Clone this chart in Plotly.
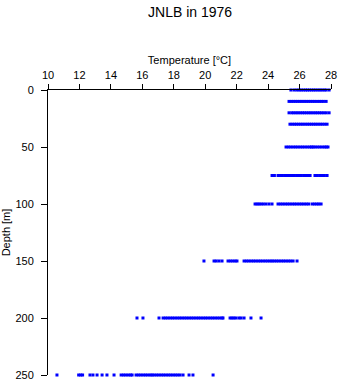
import plotly.graph_objects as go

# Depth levels [m]
depths = [0, 10, 20, 30, 50, 75, 100, 150, 200, 250]

# Temperature readings [°C] at each depth level
temp_0m = [25.45, 25.65, 25.82, 25.97, 26.1, 26.24, 26.38, 26.5, 26.63, 26.77,
           26.9, 27.03, 27.17, 27.3, 27.43, 27.57, 27.69, 27.88]
temp_10m = [25.33, 25.47, 25.6, 25.74, 25.88, 26.02, 26.15, 26.29, 26.42, 26.56,
            26.7, 26.84, 26.97, 27.11, 27.25, 27.38, 27.52, 27.69]
temp_20m = [25.33, 25.5, 25.63, 25.77, 25.9, 26.04, 26.18, 26.31, 26.45, 26.59,
            26.72, 26.86, 27.0, 27.13, 27.27, 27.41, 27.55, 27.7, 27.88]
temp_30m = [25.39, 25.53, 25.67, 25.8, 25.94, 26.08, 26.21, 26.35, 26.49, 26.62,
            26.76, 26.9, 27.03, 27.17, 27.31, 27.45, 27.6, 27.75]
temp_50m = [25.14, 25.29, 25.44, 25.59, 25.74, 25.89, 26.04, 26.19, 26.34, 26.49,
            26.64, 26.76, 26.86, 26.98, 27.13, 27.28, 27.43, 27.58, 27.7, 27.81]
temp_75m = [24.25, 24.4, 24.63, 24.76, 24.91, 25.06, 25.21, 25.36, 25.51, 25.66,
            25.81, 25.96, 26.11, 26.26, 26.41, 26.56, 26.67, 26.98, 27.13, 27.28,
            27.43, 27.58, 27.75]
temp_100m = [23.17, 23.3, 23.42, 23.55, 23.7, 23.87, 24.06, 24.25, 24.63, 24.78,
             24.93, 25.08, 25.23, 25.38, 25.53, 25.68, 25.83, 25.98, 26.13, 26.28,
             26.43, 26.58, 26.8, 26.95, 27.1, 27.22, 27.37]
temp_150m = [19.92, 20.56, 20.7, 20.88, 21.07, 21.45, 21.6, 21.75, 21.9, 22.02,
             22.47, 22.62, 22.77, 22.92, 23.07, 23.22, 23.37, 23.52, 23.67, 23.82,
             23.97, 24.12, 24.25, 24.38, 24.53, 24.68, 24.83, 24.98, 25.13, 25.28,
             25.43, 25.59, 25.84]
temp_200m = [15.66, 16.04, 17.06, 17.32, 17.47, 17.62, 17.77, 17.92, 18.07, 18.22,
             18.37, 18.52, 18.67, 18.82, 18.97, 19.12, 19.27, 19.42, 19.57, 19.72,
             19.87, 20.02, 20.17, 20.32, 20.47, 20.62, 20.77, 20.92, 21.07, 21.13,
             21.58, 21.7, 21.82, 21.95, 22.14, 22.28, 22.47, 22.91, 23.55]
temp_250m = [10.57, 11.95, 12.08, 12.2, 12.67, 12.86, 13.12, 13.44, 13.75, 14.2,
             14.65, 14.8, 14.95, 15.1, 15.25, 15.35, 15.6, 15.75, 15.9, 16.05,
             16.2, 16.35, 16.5, 16.62, 16.74, 16.9, 17.05, 17.2, 17.35, 17.5,
             17.65, 17.8, 17.95, 18.1, 18.25, 18.4, 18.59, 18.97, 19.22, 20.5]

temps_by_depth = [temp_0m, temp_10m, temp_20m, temp_30m, temp_50m, temp_75m,
                  temp_100m, temp_150m, temp_200m, temp_250m]

x_ticks = [10, 12, 14, 16, 18, 20, 22, 24, 26, 28]
y_ticks = [0, 50, 100, 150, 200, 250]

xs, ys = [], []
for d, temps in zip(depths, temps_by_depth):
    xs.extend(temps)
    ys.extend([d] * len(temps))

font_family = "Liberation Sans, Arial, sans-serif"

fig = go.Figure()
fig.add_trace(go.Scatter(
    x=xs, y=ys, mode="markers",
    marker=dict(symbol="square", size=3, color="#0000ff", line=dict(width=0)),
    cliponaxis=False, showlegend=False,
))

fig.update_layout(
    width=341, height=384,
    margin=dict(l=48, r=10, t=90, b=9, autoexpand=False),
    paper_bgcolor="white", plot_bgcolor="white",
    font=dict(family=font_family, size=11, color="black"),
    title=dict(text="JNLB in 1976", x=0.5575, xanchor="center",
               y=1 - 12 / 384, yanchor="middle",
               font=dict(size=14, color="black", family=font_family)),
    xaxis=dict(
        side="top", range=[10, 28], tickvals=x_ticks,
        ticks="outside", ticklen=5, tickwidth=1, tickcolor="black",
        showline=True, linecolor="black", linewidth=1,
        showgrid=False, zeroline=False, ticklabelstandoff=1,
        title=dict(text="Temperature [°C]", standoff=1,
                   font=dict(size=11, family=font_family)),
        automargin=False,
    ),
    yaxis=dict(
        range=[250, 0], tickvals=y_ticks,
        ticks="outside", ticklen=6, tickwidth=1, tickcolor="black",
        showline=True, linecolor="black", linewidth=1,
        showgrid=False, zeroline=False, ticklabelstandoff=5,
        title=dict(text="Depth [m]", standoff=2,
                   font=dict(size=11, family=font_family)),
        automargin=False,
    ),
)

fig.write_html("out.html")
